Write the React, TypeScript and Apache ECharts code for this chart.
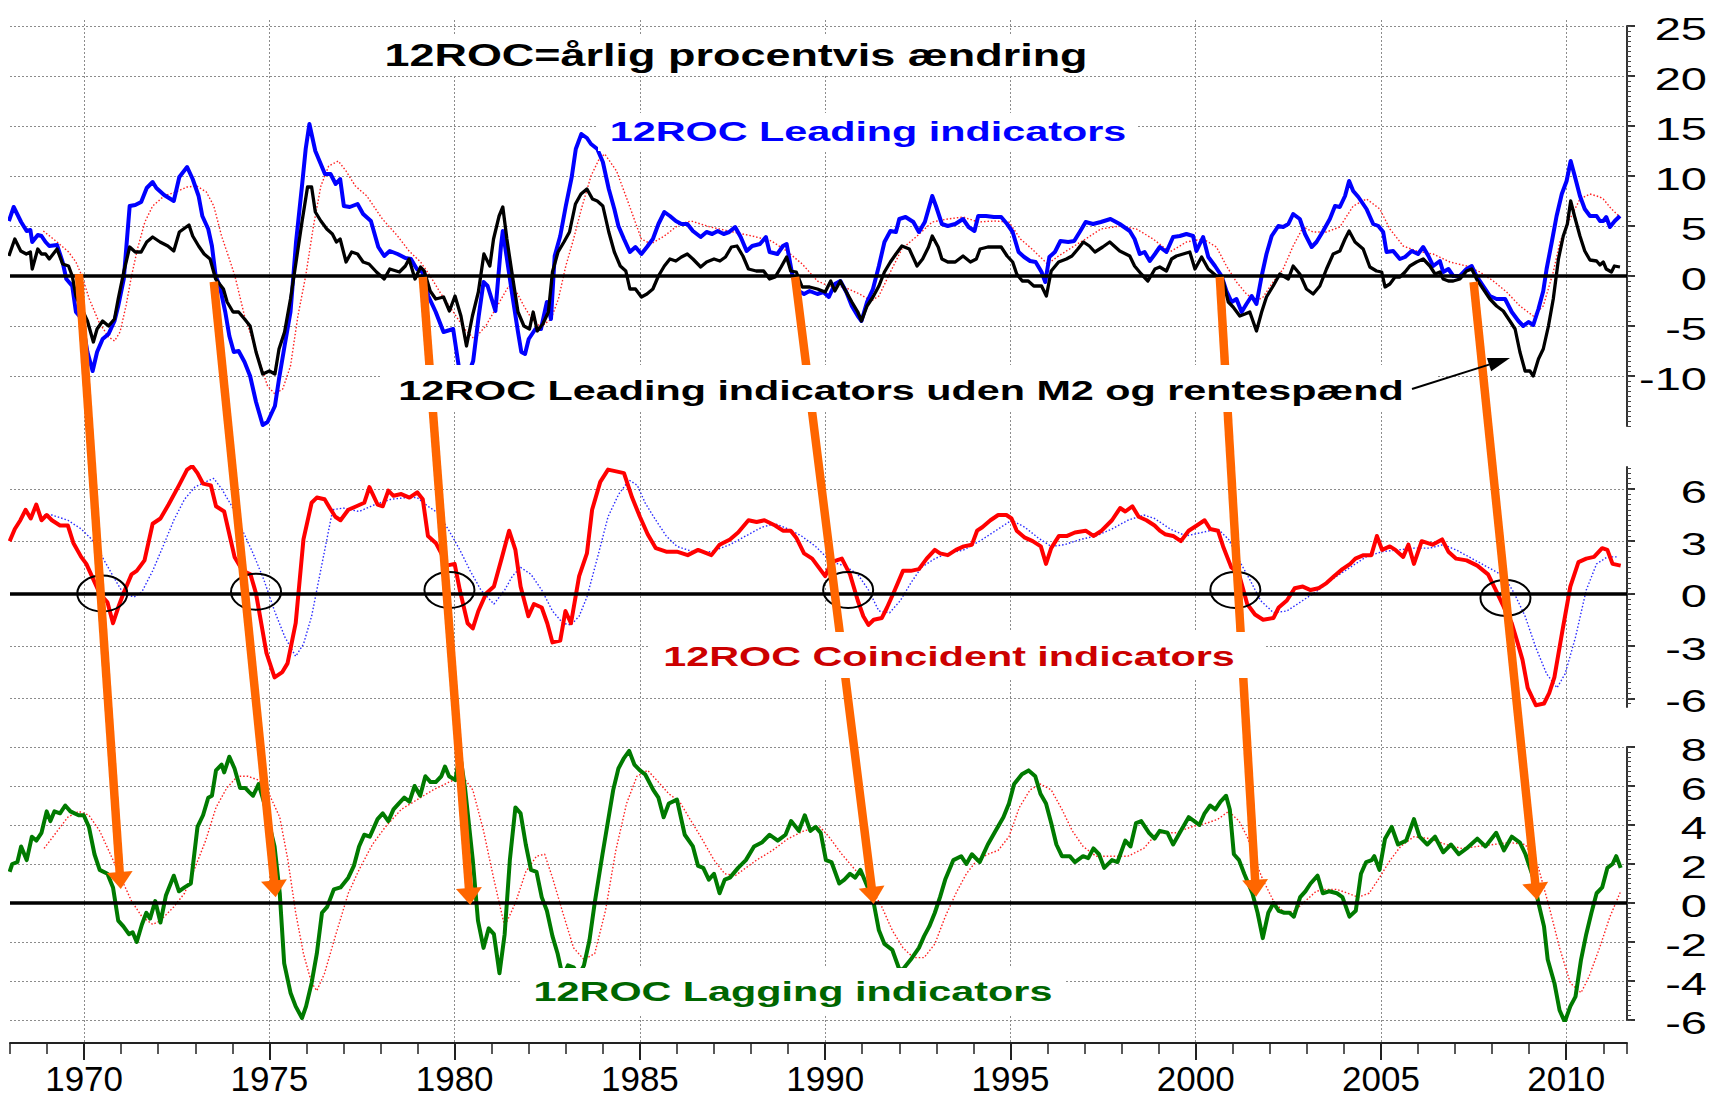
import React, { useEffect, useRef } from 'react';
import * as echarts from 'echarts';

const X_MIN = 1968;
const X_MAX = 2011.64;

const yearLabels = [1970, 1975, 1980, 1985, 1990, 1995, 2000, 2005, 2010];
const topTicks = [-10, -5, 0, 5, 10, 15, 20, 25];
const midTicks = [-6, -3, 0, 3, 6];
const botTicks = [-6, -4, -2, 0, 2, 4, 6, 8];

const leadingTotal: [number, number][] = [[1967.97,5.5],[1968.1,6.9],[1968.3,5.4],[1968.45,4.5],[1968.55,4.6],[1968.6,3.4],[1968.75,4.1],[1968.85,4.0],[1968.96,3.4],[1969.06,3.0],[1969.27,3.1],[1969.42,1.4],[1969.52,-0.3],[1969.68,-1.0],[1969.78,-3.6],[1969.94,-4.3],[1970.09,-7.6],[1970.23,-9.5],[1970.35,-7.6],[1970.5,-6.3],[1970.66,-5.8],[1970.82,-4.5],[1970.92,-3.0],[1971.07,-0.3],[1971.23,7.0],[1971.38,7.1],[1971.54,7.4],[1971.69,8.8],[1971.85,9.4],[1971.95,8.8],[1972.16,8.1],[1972.42,7.5],[1972.57,9.9],[1972.78,10.9],[1972.93,9.7],[1973.09,8.0],[1973.19,6.0],[1973.35,4.7],[1973.45,3.0],[1973.55,0],[1973.66,-1.0],[1973.81,-3.6],[1973.92,-6.0],[1974.04,-7.6],[1974.17,-7.5],[1974.33,-8.6],[1974.48,-10],[1974.64,-12.6],[1974.82,-14.9],[1974.95,-14.6],[1975.15,-13.0],[1975.26,-10.3],[1975.41,-7],[1975.57,-3.6],[1975.72,3.4],[1975.88,9.0],[1975.98,12.7],[1976.08,15.2],[1976.24,12.5],[1976.5,10.2],[1976.65,10.2],[1976.79,9.2],[1976.91,9.7],[1977.01,7.0],[1977.17,6.9],[1977.38,7.2],[1977.53,6.2],[1977.74,5.5],[1977.94,2.9],[1978.1,2.0],[1978.25,2.5],[1978.46,2.2],[1978.67,1.8],[1978.82,1.7],[1978.98,0.7],[1979.13,0.4],[1979.29,-2.0],[1979.49,-3.6],[1979.7,-5.6],[1979.96,-5.3],[1980.11,-9],[1980.3,-10.5],[1980.5,-8.5],[1980.65,-4],[1980.78,-0.6],[1980.89,-1],[1981.1,-3.5],[1981.25,3.0],[1981.3,4.5],[1981.4,2.0],[1981.56,-2.0],[1981.71,-5.6],[1981.8,-7.6],[1981.9,-7.8],[1982.0,-6.3],[1982.18,-5.3],[1982.33,-5.3],[1982.49,-2.6],[1982.6,-4.3],[1982.7,2.0],[1982.85,4.0],[1983.0,7.0],[1983.16,9.9],[1983.27,12.7],[1983.42,14.2],[1983.57,13.8],[1983.68,13.2],[1983.85,12.7],[1984.0,11.4],[1984.16,8.7],[1984.31,6.7],[1984.42,5.0],[1984.57,3.7],[1984.73,2.4],[1984.88,2.9],[1985.04,2.2],[1985.19,2.9],[1985.35,3.7],[1985.5,5.2],[1985.66,6.4],[1985.81,6.0],[1985.97,5.5],[1986.12,5.2],[1986.28,5.2],[1986.43,4.5],[1986.64,3.9],[1986.8,4.4],[1986.95,4.2],[1987.1,4.5],[1987.26,4.2],[1987.41,4.4],[1987.57,4.9],[1987.72,3.9],[1987.88,2.5],[1988.03,3.0],[1988.24,3.2],[1988.4,3.9],[1988.5,2.4],[1988.71,2.2],[1988.86,3.0],[1988.96,3.2],[1989.12,0],[1989.28,-1.5],[1989.43,-1.8],[1989.58,-1.5],[1989.79,-1.8],[1989.95,-1.6],[1990.1,-2.1],[1990.26,-0.8],[1990.41,-0.5],[1990.57,-1.6],[1990.72,-3.0],[1990.88,-4.0],[1990.98,-4.5],[1991.13,-2.6],[1991.29,-1.3],[1991.45,1.0],[1991.6,3.4],[1991.76,4.5],[1991.91,4.4],[1992.0,5.7],[1992.17,5.9],[1992.38,5.4],[1992.53,4.4],[1992.69,5.4],[1992.79,6.7],[1992.89,8.0],[1992.99,7.0],[1993.15,5.2],[1993.31,5.0],[1993.51,5.2],[1993.72,5.7],[1993.87,4.9],[1994.03,4.5],[1994.13,6.0],[1994.34,6.0],[1994.55,5.9],[1994.75,5.9],[1994.91,5.2],[1995.06,4.4],[1995.22,2.4],[1995.37,1.9],[1995.53,1.5],[1995.68,1.4],[1995.84,0.4],[1995.94,-0.6],[1996.05,1.9],[1996.2,2.4],[1996.35,3.5],[1996.56,3.4],[1996.72,3.5],[1996.87,4.4],[1997.03,5.4],[1997.23,5.2],[1997.44,5.4],[1997.7,5.7],[1997.95,5.2],[1998.22,4.5],[1998.35,3.7],[1998.49,2.2],[1998.62,2.4],[1998.76,1.5],[1998.9,2.2],[1999.03,2.9],[1999.21,2.4],[1999.39,3.9],[1999.57,4.0],[1999.75,4.2],[1999.93,4.0],[2000.02,2.5],[2000.2,3.9],[2000.34,1.9],[2000.52,1.0],[2000.7,0],[2000.83,-1.5],[2000.97,-2.6],[2001.1,-2.3],[2001.24,-3.6],[2001.37,-2.8],[2001.51,-2.0],[2001.64,-2.8],[2001.78,0],[2001.91,2.2],[2002.05,4.0],[2002.23,5.0],[2002.36,4.9],[2002.5,5.2],[2002.63,6.2],[2002.81,5.7],[2002.95,4.2],[2003.13,2.9],[2003.26,3.4],[2003.44,4.5],[2003.62,5.7],[2003.76,7.0],[2003.89,6.9],[2004.03,8.0],[2004.14,9.5],[2004.25,8.5],[2004.39,7.9],[2004.61,6.7],[2004.79,5.2],[2004.93,5.0],[2005.06,4.4],[2005.15,2.4],[2005.33,2.5],[2005.51,1.7],[2005.65,1.9],[2005.83,2.5],[2006.0,2.2],[2006.14,2.9],[2006.28,2.0],[2006.41,1.0],[2006.59,1.5],[2006.68,0.4],[2006.82,0.7],[2006.95,0],[2007.13,0],[2007.31,0.7],[2007.45,1.0],[2007.58,0],[2007.76,-1.0],[2007.94,-2.0],[2008.12,-2.3],[2008.35,-2.3],[2008.53,-3.6],[2008.71,-4.5],[2008.84,-5.0],[2008.98,-4.6],[2009.11,-4.9],[2009.25,-3.3],[2009.38,-1.5],[2009.47,0.7],[2009.61,3.4],[2009.74,6.0],[2009.88,8.2],[2010.01,9.5],[2010.12,11.5],[2010.23,10.0],[2010.37,8.0],[2010.5,6.7],[2010.64,6.0],[2010.82,6.0],[2010.91,5.5],[2011.0,5.5],[2011.08,5.9],[2011.18,4.9],[2011.31,5.5],[2011.45,6.0]];

const leadingExM2: [number, number][] = [[1967.97,2.0],[1968.13,3.7],[1968.29,2.5],[1968.44,2.2],[1968.55,2.4],[1968.6,0.7],[1968.75,2.7],[1968.85,2.2],[1968.96,2.2],[1969.06,1.7],[1969.27,2.7],[1969.42,1.2],[1969.58,1.0],[1969.68,0],[1969.78,-2.0],[1969.94,-3.3],[1970.09,-4.5],[1970.25,-6.6],[1970.35,-5.3],[1970.5,-4.5],[1970.66,-5.0],[1970.82,-4.3],[1970.92,-2.3],[1971.07,0.4],[1971.23,2.9],[1971.38,2.4],[1971.54,2.4],[1971.69,3.4],[1971.85,3.9],[1972.05,3.4],[1972.26,3.0],[1972.42,2.5],[1972.57,4.4],[1972.83,5.1],[1972.93,4.0],[1973.09,3.0],[1973.24,2.2],[1973.4,1.7],[1973.55,-0.3],[1973.76,-1.3],[1973.86,-2.6],[1974.02,-3.6],[1974.17,-3.6],[1974.33,-4.3],[1974.48,-5.0],[1974.64,-7.6],[1974.82,-9.8],[1975.0,-9.5],[1975.15,-9.8],[1975.26,-7.3],[1975.41,-5.6],[1975.57,-2.3],[1975.72,1.4],[1975.88,5.4],[1976.03,8.9],[1976.14,8.9],[1976.24,6.4],[1976.39,5.5],[1976.55,4.7],[1976.7,4.2],[1976.81,3.4],[1976.91,3.7],[1977.07,1.4],[1977.22,2.4],[1977.38,2.2],[1977.53,1.4],[1977.69,1.2],[1977.89,0.4],[1978.1,-0.3],[1978.25,0.7],[1978.51,0.4],[1978.67,1.0],[1978.77,1.7],[1978.93,-0.3],[1979.08,0.9],[1979.18,0.5],[1979.34,-1.5],[1979.49,-2.3],[1979.7,-2.1],[1979.86,-3.5],[1980.01,-2.0],[1980.17,-4.0],[1980.32,-7.0],[1980.48,-4.0],[1980.64,-1.6],[1980.79,2.2],[1980.95,1.0],[1981.05,3.7],[1981.2,6.0],[1981.3,6.9],[1981.41,3.7],[1981.56,0],[1981.71,-3.6],[1981.87,-5.0],[1982.02,-5.3],[1982.12,-3.6],[1982.23,-5.5],[1982.38,-4.8],[1982.53,-3.6],[1982.64,0.4],[1982.79,2.4],[1982.95,3.4],[1983.1,4.4],[1983.26,7.2],[1983.41,8.2],[1983.57,8.7],[1983.72,7.7],[1983.85,7.5],[1984.0,7.0],[1984.16,4.4],[1984.31,2.4],[1984.47,1.0],[1984.62,0.5],[1984.73,-1.3],[1984.88,-1.3],[1985.04,-2.1],[1985.19,-1.8],[1985.35,-1.3],[1985.5,0],[1985.66,1.0],[1985.81,1.7],[1985.97,1.5],[1986.12,1.9],[1986.28,2.2],[1986.43,1.7],[1986.64,0.9],[1986.8,1.4],[1987.0,1.7],[1987.16,1.5],[1987.31,1.9],[1987.47,2.9],[1987.62,3.0],[1987.78,2.0],[1987.93,0.7],[1988.14,0.5],[1988.34,0.5],[1988.5,-0.3],[1988.65,-0.1],[1988.81,0.9],[1988.96,1.9],[1989.07,0.5],[1989.22,0.4],[1989.38,-1.1],[1989.58,-1.1],[1989.79,-1.3],[1990.0,-1.6],[1990.15,-0.5],[1990.26,-1.5],[1990.41,-0.5],[1990.57,-1.6],[1990.72,-2.6],[1990.88,-3.6],[1990.98,-4.5],[1991.13,-3.0],[1991.29,-2.1],[1991.45,-1.0],[1991.6,0.4],[1991.76,1.4],[1991.91,2.2],[1992.07,3.0],[1992.27,2.7],[1992.48,1.0],[1992.63,1.7],[1992.79,2.9],[1992.89,4.0],[1993.05,2.9],[1993.15,1.7],[1993.31,1.4],[1993.51,1.4],[1993.72,2.0],[1993.92,1.4],[1994.08,1.7],[1994.18,2.7],[1994.39,2.9],[1994.6,2.9],[1994.75,2.9],[1994.91,2.0],[1995.06,1.4],[1995.17,0.2],[1995.32,-0.5],[1995.48,-0.5],[1995.63,-1.0],[1995.84,-1.0],[1995.97,-2.0],[1996.1,0.5],[1996.3,1.4],[1996.51,1.7],[1996.66,2.0],[1996.82,2.7],[1996.97,3.4],[1997.13,3.0],[1997.28,2.4],[1997.49,2.9],[1997.68,3.4],[1997.95,2.5],[1998.22,2.0],[1998.35,1.0],[1998.53,0.2],[1998.71,-0.5],[1998.9,0.7],[1999.03,0.9],[1999.21,0.5],[1999.35,1.7],[1999.48,2.0],[1999.66,2.2],[1999.84,2.4],[1999.98,0.7],[2000.16,1.9],[2000.34,0.7],[2000.56,0],[2000.74,-0.5],[2000.88,-2.6],[2001.01,-3.1],[2001.19,-4.0],[2001.33,-3.8],[2001.46,-3.6],[2001.64,-5.5],[2001.78,-3.6],[2001.91,-2.1],[2002.09,-1.0],[2002.27,0.2],[2002.5,-0.3],[2002.63,1.0],[2002.81,0.2],[2002.99,-1.3],[2003.17,-1.8],[2003.35,-1.0],[2003.53,0.7],[2003.71,2.2],[2003.89,2.5],[2004.03,3.7],[2004.14,4.5],[2004.3,3.4],[2004.52,2.7],[2004.7,0.9],[2004.88,0.5],[2005.02,0.4],[2005.11,-1.1],[2005.24,-0.8],[2005.38,-0.1],[2005.51,-0.1],[2005.65,0.4],[2005.78,1.0],[2005.96,1.4],[2006.14,1.7],[2006.32,1.0],[2006.46,0.2],[2006.59,0.4],[2006.68,-0.3],[2006.82,-0.5],[2006.95,-0.5],[2007.13,-0.3],[2007.31,0.5],[2007.45,0.7],[2007.58,-0.3],[2007.76,-1.3],[2007.94,-2.3],[2008.12,-3.0],[2008.3,-3.5],[2008.48,-4.5],[2008.62,-5.3],[2008.75,-7.6],[2008.89,-9.5],[2009.02,-9.5],[2009.11,-10.0],[2009.25,-8.3],[2009.38,-7.3],[2009.52,-5.0],[2009.65,-2.3],[2009.79,1.7],[2009.92,4.0],[2010.03,5.2],[2010.12,7.5],[2010.23,5.9],[2010.37,4.0],[2010.5,2.5],[2010.64,1.6],[2010.82,1.5],[2010.91,1.1],[2011.0,1.4],[2011.08,0.7],[2011.22,0.4],[2011.3,1.0],[2011.45,0.9]];

const leadingSmooth: [number, number][] = [[1968.9,4.5],[1969.27,3.4],[1969.58,2.4],[1969.78,1.4],[1969.94,0],[1970.14,-2.3],[1970.4,-4.6],[1970.66,-6.1],[1970.82,-6.5],[1970.97,-5.6],[1971.13,-3.0],[1971.28,0],[1971.44,2.7],[1971.64,5.4],[1971.85,7.0],[1972.16,8.0],[1972.47,8.4],[1972.78,8.9],[1973.04,9.0],[1973.3,8.4],[1973.5,7.0],[1973.71,4.0],[1973.92,1.7],[1974.07,0],[1974.33,-4.0],[1974.54,-6.3],[1974.74,-8.6],[1974.95,-11],[1975.15,-11.8],[1975.36,-11.3],[1975.57,-9.0],[1975.77,-4.0],[1975.98,0],[1976.19,5.0],[1976.39,9.0],[1976.6,11.0],[1976.86,11.5],[1977.07,10.5],[1977.32,9.0],[1977.63,8.0],[1978.05,5.7],[1978.46,4.0],[1978.77,2.5],[1979.08,1.4],[1979.34,0],[1979.6,-1.6],[1979.91,-3.3],[1980.27,-5.3],[1980.53,-6.3],[1980.84,-5.0],[1981.15,-3.0],[1981.46,-1.0],[1981.67,-1.6],[1981.87,-3.0],[1982.08,-4.3],[1982.33,-5.1],[1982.6,-4.3],[1982.8,-2.3],[1983.0,1.0],[1983.21,3.7],[1983.42,6.7],[1983.68,10.0],[1983.9,11.7],[1984.05,12.2],[1984.37,10.5],[1984.68,7.4],[1985.04,3.7],[1985.3,3.2],[1985.66,4.0],[1986.07,5.2],[1986.38,5.5],[1986.9,4.9],[1987.52,4.4],[1988.03,4.0],[1988.55,3.5],[1988.96,2.5],[1989.38,1.2],[1989.79,-0.5],[1990.1,-1.0],[1990.51,-1.1],[1990.93,-1.8],[1991.24,-2.5],[1991.45,-2.0],[1991.76,0.4],[1992.07,2.7],[1992.48,4.0],[1992.89,5.4],[1993.31,5.7],[1993.72,5.9],[1994.13,5.4],[1994.55,5.5],[1994.96,5.4],[1995.27,3.7],[1995.58,2.7],[1996.0,1.2],[1996.3,2.0],[1996.72,3.0],[1997.03,3.7],[1997.44,4.7],[1997.95,5.0],[1998.4,4.7],[1998.85,3.7],[1999.3,2.4],[1999.75,3.4],[2000.2,3.7],[2000.56,2.9],[2000.83,1.0],[2001.1,-0.6],[2001.37,-1.8],[2001.64,-2.5],[2001.82,-2.1],[2002.09,-0.6],[2002.36,0.7],[2002.63,3.0],[2002.9,4.9],[2003.17,4.4],[2003.53,4.4],[2003.89,4.9],[2004.25,7.0],[2004.61,7.7],[2004.97,6.7],[2005.24,4.7],[2005.6,3.0],[2005.96,2.5],[2006.41,2.2],[2006.86,1.4],[2007.31,1.0],[2007.67,0.4],[2008.03,-0.5],[2008.39,-1.6],[2008.75,-3.0],[2009.11,-4.0],[2009.38,-3.0],[2009.65,0.4],[2009.83,3.4],[2010.1,5.7],[2010.37,7.7],[2010.64,8.2],[2010.91,7.9],[2011.0,7.7],[2011.22,6.7],[2011.45,5.9]];

const coincident: [number, number][] = [[1967.99,3.0],[1968.13,3.7],[1968.28,4.2],[1968.42,4.8],[1968.56,4.3],[1968.71,5.1],[1968.85,4.2],[1968.99,4.5],[1969.13,4.2],[1969.35,3.9],[1969.56,3.9],[1969.71,2.9],[1969.92,2.1],[1970.06,1.7],[1970.21,1.0],[1970.42,0],[1970.63,-0.5],[1970.78,-1.7],[1970.92,-0.8],[1971.06,0],[1971.28,1.1],[1971.42,1.3],[1971.63,1.9],[1971.85,4.0],[1972.06,4.3],[1972.28,5.1],[1972.56,6.2],[1972.78,7.1],[1972.92,7.3],[1973.06,6.9],[1973.21,6.3],[1973.42,6.2],[1973.56,5.0],[1973.78,4.7],[1973.92,3.4],[1974.06,2.1],[1974.28,1.3],[1974.49,1.1],[1974.64,0],[1974.78,-1.7],[1974.92,-3.4],[1975.14,-4.8],[1975.35,-4.5],[1975.49,-4.0],[1975.71,-1.7],[1975.92,3.1],[1976.14,5.2],[1976.28,5.5],[1976.49,5.4],[1976.63,4.9],[1976.78,4.4],[1976.92,4.2],[1977.13,4.8],[1977.35,5.0],[1977.56,5.2],[1977.7,6.1],[1977.92,5.1],[1978.06,5.0],[1978.21,5.9],[1978.35,5.6],[1978.56,5.7],[1978.78,5.5],[1978.99,5.8],[1979.14,5.4],[1979.28,3.3],[1979.49,2.9],[1979.64,2.3],[1979.78,1.6],[1980.0,1.7],[1980.14,0.2],[1980.35,-1.7],[1980.49,-2.0],[1980.64,-1.0],[1980.85,0],[1981.06,0.4],[1981.28,2.1],[1981.47,3.6],[1981.64,2.5],[1981.78,0.4],[1981.99,-1.3],[1982.14,-0.6],[1982.35,-0.8],[1982.5,-1.7],[1982.64,-2.8],[1982.85,-2.7],[1982.99,-1.0],[1983.14,-1.7],[1983.36,1.0],[1983.57,2.3],[1983.71,4.8],[1983.93,6.4],[1984.14,7.1],[1984.36,7.0],[1984.57,6.9],[1984.79,5.5],[1985.0,4.4],[1985.21,3.4],[1985.43,2.6],[1985.71,2.4],[1986.0,2.4],[1986.29,2.2],[1986.57,2.5],[1986.93,2.2],[1987.15,2.8],[1987.43,3.1],[1987.65,3.5],[1987.93,4.2],[1988.15,4.1],[1988.36,4.2],[1988.65,3.9],[1988.86,3.6],[1989.07,3.6],[1989.22,3.2],[1989.43,2.3],[1989.65,2.0],[1989.79,1.6],[1990.0,1.0],[1990.17,1.8],[1990.45,2.0],[1990.67,1.1],[1990.88,-0.4],[1991.03,-1.3],[1991.17,-1.8],[1991.31,-1.5],[1991.53,-1.4],[1991.67,-0.8],[1991.88,0.2],[1992.1,1.3],[1992.31,1.3],[1992.53,1.4],[1992.74,2.0],[1992.96,2.5],[1993.1,2.3],[1993.31,2.2],[1993.53,2.5],[1993.74,2.7],[1993.96,2.8],[1994.1,3.6],[1994.24,3.8],[1994.46,4.2],[1994.67,4.5],[1994.89,4.5],[1995.03,4.3],[1995.17,3.6],[1995.39,3.2],[1995.6,3.0],[1995.82,2.7],[1995.96,1.7],[1996.1,2.6],[1996.31,3.3],[1996.53,3.3],[1996.74,3.5],[1997.03,3.6],[1997.24,3.3],[1997.46,3.6],[1997.74,4.2],[1997.96,4.9],[1998.1,4.7],[1998.29,5.0],[1998.46,4.4],[1998.67,4.2],[1998.89,3.9],[1999.03,3.6],[1999.17,3.4],[1999.39,3.3],[1999.6,3.0],[1999.81,3.6],[2000.03,3.9],[2000.24,4.2],[2000.39,3.7],[2000.6,3.6],[2000.74,2.7],[2000.96,1.5],[2001.17,1.1],[2001.39,-0.6],[2001.6,-1.2],[2001.82,-1.5],[2002.1,-1.4],[2002.24,-0.8],[2002.46,-0.4],[2002.67,0.3],[2002.89,0.4],[2003.1,0.2],[2003.31,0.3],[2003.53,0.6],[2003.74,1.0],[2003.96,1.4],[2004.17,1.7],[2004.31,2.0],[2004.53,2.2],[2004.74,2.2],[2004.89,3.3],[2005.03,2.5],[2005.24,2.7],[2005.39,2.5],[2005.6,2.1],[2005.74,2.8],[2005.89,1.7],[2006.1,3.0],[2006.39,2.8],[2006.65,3.1],[2006.82,2.4],[2007.03,2.0],[2007.31,1.9],[2007.6,1.6],[2007.89,1.1],[2008.1,0.2],[2008.32,-0.8],[2008.53,-1.7],[2008.67,-2.7],[2008.82,-3.8],[2008.96,-5.4],[2009.18,-6.4],[2009.4,-6.3],[2009.54,-5.7],[2009.68,-4.8],[2009.9,-2.1],[2010.11,0.4],[2010.33,1.8],[2010.54,2.0],[2010.75,2.1],[2010.97,2.6],[2011.11,2.5],[2011.25,1.7],[2011.47,1.6]];

const coincidentSmooth: [number, number][] = [[1968.92,4.5],[1969.13,4.5],[1969.56,4.2],[1969.92,3.7],[1970.21,3.1],[1970.49,2.1],[1970.78,1.0],[1971.06,0],[1971.35,-0.2],[1971.56,0.1],[1971.85,1.3],[1972.13,2.7],[1972.42,4.2],[1972.71,5.4],[1972.99,6.1],[1973.28,6.4],[1973.5,6.6],[1973.71,6.0],[1973.99,5.0],[1974.28,3.6],[1974.56,2.3],[1974.85,0.8],[1975.14,-1.0],[1975.42,-2.5],[1975.71,-3.6],[1975.92,-2.9],[1976.14,-1.3],[1976.42,1.7],[1976.71,4.8],[1976.99,4.9],[1977.42,4.7],[1977.85,5.1],[1978.28,5.4],[1978.71,5.5],[1978.99,5.5],[1979.28,5.0],[1979.56,4.6],[1979.85,3.6],[1980.14,2.5],[1980.42,1.3],[1980.71,0.2],[1981.06,-0.6],[1981.35,0.2],[1981.56,1.0],[1981.78,1.5],[1982.06,1.1],[1982.35,0.2],[1982.64,-1.0],[1982.92,-1.7],[1983.14,-1.8],[1983.36,-1.3],[1983.57,-0.2],[1983.86,2.1],[1984.14,4.4],[1984.43,5.7],[1984.71,6.5],[1984.93,6.2],[1985.14,5.2],[1985.43,4.2],[1985.71,3.3],[1986.0,2.7],[1986.43,2.4],[1986.93,2.4],[1987.43,2.8],[1987.86,3.3],[1988.29,3.8],[1988.65,4.0],[1989.0,3.7],[1989.36,3.3],[1989.74,2.7],[1990.17,1.8],[1990.52,1.6],[1990.88,1.1],[1991.17,0.2],[1991.45,-1.0],[1991.74,-1.1],[1992.03,-0.4],[1992.31,0.6],[1992.6,1.5],[1992.96,2.0],[1993.31,2.3],[1993.74,2.5],[1994.17,3.0],[1994.6,3.6],[1995.03,4.2],[1995.39,3.8],[1995.74,3.2],[1996.1,2.7],[1996.46,2.8],[1996.89,3.1],[1997.31,3.3],[1997.74,3.7],[1998.17,4.2],[1998.6,4.5],[1998.89,4.3],[1999.31,3.7],[1999.74,3.3],[2000.17,3.5],[2000.6,3.7],[2000.89,3.1],[2001.17,1.9],[2001.46,0.8],[2001.75,-0.4],[2002.1,-1.1],[2002.46,-1.0],[2002.89,-0.4],[2003.31,0.2],[2003.74,0.9],[2004.17,1.5],[2004.6,2.1],[2005.03,2.4],[2005.46,2.5],[2005.89,2.6],[2006.32,2.6],[2006.68,2.8],[2007.03,2.5],[2007.46,2.0],[2007.89,1.5],[2008.32,1.0],[2008.6,0],[2008.89,-1.3],[2009.18,-3.1],[2009.47,-4.6],[2009.75,-5.4],[2009.97,-4.6],[2010.25,-2.5],[2010.54,0.2],[2010.82,1.7],[2011.11,2.1],[2011.4,2.1]];

const lagging: [number, number][] = [[1967.99,1.6],[1968.06,2.0],[1968.2,2.1],[1968.3,2.9],[1968.45,2.2],[1968.59,3.4],[1968.71,3.2],[1968.85,3.6],[1968.99,4.7],[1969.09,4.2],[1969.2,4.7],[1969.35,4.6],[1969.49,5.0],[1969.63,4.7],[1969.85,4.5],[1969.99,4.5],[1970.13,3.9],[1970.28,2.5],[1970.42,1.7],[1970.63,1.5],[1970.78,0.8],[1970.92,-0.9],[1971.06,-1.2],[1971.21,-1.6],[1971.31,-1.5],[1971.42,-2.0],[1971.56,-1.1],[1971.68,-0.5],[1971.78,-0.8],[1971.92,0.1],[1972.06,-1.0],[1972.21,0.4],[1972.42,1.4],[1972.56,0.6],[1972.71,0.8],[1972.88,1.0],[1973.06,3.9],[1973.21,4.5],[1973.35,5.4],[1973.45,5.5],[1973.56,6.8],[1973.71,7.1],[1973.78,6.7],[1973.92,7.5],[1974.06,6.9],[1974.21,5.9],[1974.35,5.9],[1974.45,5.7],[1974.56,5.5],[1974.71,6.1],[1974.85,5.2],[1975.14,2.9],[1975.28,0.5],[1975.4,-3.1],[1975.57,-4.6],[1975.71,-5.3],[1975.88,-5.9],[1975.99,-5.3],[1976.14,-4.1],[1976.28,-2.6],[1976.42,-0.5],[1976.56,-0.2],[1976.74,0.7],[1976.92,0.8],[1977.13,1.3],[1977.28,1.9],[1977.42,2.9],[1977.56,3.5],[1977.71,3.4],[1977.92,4.3],[1978.06,4.6],[1978.21,4.2],[1978.35,4.8],[1978.49,5.1],[1978.64,5.4],[1978.78,5.2],[1978.92,6.0],[1979.07,5.5],[1979.21,6.5],[1979.35,6.2],[1979.49,6.2],[1979.64,6.5],[1979.74,7.0],[1979.85,6.5],[1980.02,6.3],[1980.14,7.7],[1980.28,5.9],[1980.49,2.2],[1980.63,-0.9],[1980.78,-2.3],[1980.92,-1.3],[1981.06,-1.6],[1981.21,-3.6],[1981.35,-1.6],[1981.49,2.2],[1981.64,4.9],[1981.78,4.6],[1981.92,3.0],[1982.06,1.7],[1982.21,1.6],[1982.35,0.3],[1982.49,-0.4],[1982.64,-1.7],[1982.78,-2.6],[1982.92,-3.8],[1983.06,-3.2],[1983.21,-3.3],[1983.35,-3.7],[1983.49,-3.2],[1983.64,-1.9],[1983.78,0],[1983.99,2.5],[1984.28,5.8],[1984.42,6.9],[1984.56,7.4],[1984.71,7.8],[1984.85,7.1],[1985.0,6.8],[1985.14,6.6],[1985.36,5.8],[1985.5,5.4],[1985.64,4.4],[1985.78,5.1],[1986.0,5.3],[1986.21,3.5],[1986.43,2.9],[1986.57,1.9],[1986.71,1.8],[1986.86,1.2],[1987.0,1.5],[1987.15,0.5],[1987.29,1.2],[1987.43,1.3],[1987.65,1.8],[1987.86,2.2],[1988.08,2.9],[1988.29,3.1],[1988.5,3.5],[1988.72,3.2],[1988.93,3.5],[1989.08,4.2],[1989.29,3.7],[1989.45,4.5],[1989.6,3.7],[1989.74,3.9],[1989.88,3.6],[1990.02,2.2],[1990.17,2.1],[1990.38,1.0],[1990.52,1.2],[1990.67,1.5],[1990.81,1.3],[1990.95,1.7],[1991.17,0.7],[1991.31,0],[1991.45,-1.4],[1991.6,-2.1],[1991.81,-2.4],[1992.0,-3.4],[1992.1,-3.4],[1992.31,-2.9],[1992.53,-2.3],[1992.67,-1.7],[1992.81,-1.2],[1992.96,-0.5],[1993.1,0.3],[1993.24,1.2],[1993.46,2.2],[1993.67,2.4],[1993.81,2.0],[1993.96,2.5],[1994.17,2.1],[1994.39,3.0],[1994.6,3.7],[1994.81,4.4],[1994.96,5.1],[1995.1,6.1],[1995.31,6.6],[1995.49,6.8],[1995.67,6.5],[1995.81,5.6],[1995.96,5.1],[1996.1,4.1],[1996.24,3.0],[1996.39,2.4],[1996.6,2.4],[1996.74,2.1],[1996.96,2.4],[1997.1,2.3],[1997.24,2.8],[1997.39,2.5],[1997.53,1.8],[1997.74,2.2],[1997.89,2.1],[1998.1,3.2],[1998.24,2.9],[1998.39,4.1],[1998.53,4.2],[1998.74,3.6],[1998.89,3.3],[1999.03,3.7],[1999.24,3.6],[1999.39,3.0],[1999.6,3.7],[1999.81,4.4],[1999.96,4.2],[2000.1,4.0],[2000.24,4.6],[2000.39,5.0],[2000.53,4.8],[2000.67,5.2],[2000.82,5.5],[2000.92,4.8],[2001.03,2.5],[2001.17,2.2],[2001.31,1.5],[2001.53,0.5],[2001.67,-0.5],[2001.81,-1.8],[2001.96,-0.5],[2002.1,0],[2002.24,-0.4],[2002.39,-0.5],[2002.53,-0.5],[2002.65,-0.7],[2002.82,0.3],[2002.96,0.6],[2003.1,1.0],[2003.29,1.4],[2003.43,0.5],[2003.6,0.6],[2003.81,0.5],[2003.96,0.3],[2004.15,-0.7],[2004.32,-0.4],[2004.46,1.5],[2004.6,2.1],[2004.75,2.2],[2004.82,2.4],[2004.96,1.7],[2005.11,3.3],[2005.29,3.9],[2005.46,3.0],[2005.68,3.2],[2005.89,4.3],[2006.04,3.4],[2006.25,3.0],[2006.46,3.4],[2006.68,2.6],[2006.89,3.0],[2007.1,2.5],[2007.31,2.8],[2007.6,3.3],[2007.82,2.9],[2008.11,3.6],[2008.32,2.7],[2008.53,3.4],[2008.75,3.1],[2008.9,2.5],[2009.11,1.3],[2009.25,0],[2009.4,-1.2],[2009.5,-2.9],[2009.68,-4.1],[2009.82,-5.5],[2009.96,-6.1],[2010.11,-5.3],[2010.25,-4.8],[2010.4,-2.9],[2010.54,-1.6],[2010.68,-0.5],[2010.82,0.5],[2010.97,0.8],[2011.11,1.8],[2011.25,2.0],[2011.35,2.4],[2011.47,1.8]];

const laggingSmooth: [number, number][] = [[1968.92,2.8],[1969.2,3.5],[1969.56,4.4],[1969.85,4.7],[1970.13,4.5],[1970.42,3.7],[1970.71,2.5],[1970.99,1.3],[1971.28,0.1],[1971.56,-0.7],[1971.85,-1.1],[1972.06,-0.9],[1972.42,-0.2],[1972.71,0.5],[1972.99,1.8],[1973.28,3.2],[1973.56,4.9],[1973.85,5.9],[1974.14,6.5],[1974.42,6.5],[1974.71,6.3],[1974.99,5.6],[1975.28,4.4],[1975.5,2.2],[1975.71,-0.5],[1975.92,-2.6],[1976.14,-4.1],[1976.28,-4.5],[1976.49,-3.6],[1976.78,-1.7],[1977.13,0.5],[1977.42,1.7],[1977.78,3.0],[1978.13,3.9],[1978.56,4.8],[1978.99,5.3],[1979.42,5.8],[1979.85,6.2],[1980.21,6.5],[1980.49,5.8],[1980.78,3.7],[1981.06,1.2],[1981.35,-1.2],[1981.64,0],[1981.92,1.6],[1982.21,2.4],[1982.43,2.5],[1982.64,1.3],[1982.92,-0.5],[1983.21,-2.3],[1983.49,-2.9],[1983.78,-2.6],[1984.07,-0.4],[1984.35,2.7],[1984.64,5.1],[1984.92,6.5],[1985.21,6.8],[1985.5,6.2],[1985.78,5.6],[1986.07,5.2],[1986.35,4.3],[1986.64,3.4],[1987.0,2.2],[1987.29,1.5],[1987.57,1.4],[1987.86,1.8],[1988.15,2.2],[1988.58,2.7],[1989.0,3.3],[1989.43,3.7],[1989.86,3.9],[1990.1,3.4],[1990.45,2.5],[1990.81,1.7],[1991.17,1.0],[1991.53,-0.2],[1991.81,-1.4],[1992.1,-2.3],[1992.38,-2.8],[1992.67,-2.8],[1992.96,-2.1],[1993.24,-0.7],[1993.53,0.5],[1993.81,1.5],[1994.1,2.2],[1994.39,2.5],[1994.67,2.7],[1994.96,3.4],[1995.24,4.9],[1995.53,5.8],[1995.81,6.1],[1996.1,5.8],[1996.39,4.8],[1996.67,3.7],[1996.96,2.9],[1997.31,2.4],[1997.74,2.4],[1998.17,2.4],[1998.6,2.8],[1998.96,3.6],[1999.46,3.6],[1999.88,3.9],[2000.31,4.1],[2000.6,4.3],[2000.89,4.7],[2001.17,4.2],[2001.39,3.4],[2001.6,2.2],[2001.81,1.2],[2002.1,0.1],[2002.39,-0.5],[2002.67,-0.4],[2002.96,0.1],[2003.25,0.6],[2003.53,0.7],[2003.81,0.7],[2004.1,0.5],[2004.39,0.3],[2004.68,0.5],[2004.96,1.3],[2005.25,2.2],[2005.53,2.9],[2005.89,3.4],[2006.32,3.3],[2006.75,3.0],[2007.18,2.8],[2007.6,2.9],[2008.04,3.0],[2008.47,3.1],[2008.9,3.0],[2009.25,1.8],[2009.54,-0.2],[2009.82,-2.3],[2010.11,-4.1],[2010.4,-4.6],[2010.61,-3.8],[2010.9,-2.3],[2011.18,-0.7],[2011.47,0.6]];

// Orange arrows: start in the top panel (year, value), end in the bottom panel (year, value)
const arrowStarts: [number, number][] = [[1969.86,0.2],[1973.5,-0.57],[1979.14,-0.1],[1989.19,-0.1],[2000.65,-0.1],[2007.5,-0.6]];
const arrowEnds: [number, number][] = [[1970.99,0.72],[1975.17,0.29],[1980.42,-0.1],[1991.31,-0.05],[2001.63,0.32],[2009.21,0.15]];
// Circles round the zero crossings in the middle panel
const circleCenters: [number, number][] = [[1970.49,0],[1974.64,0.1],[1979.86,0.2],[1990.62,0.2],[2001.07,0.2],[2008.36,-0.25]];

const FONT = 'Liberation Sans, Arial, Helvetica, sans-serif';

function stepTicks(from: number, to: number, step: number): number[] {
  const out: number[] = [];
  const n = Math.round((to - from) / step);
  for (let i = 0; i <= n; i++) out.push(Math.round((from + i * step) * 1000) / 1000);
  return out;
}

export default function App() {
  const ref = useRef<HTMLDivElement>(null);
  useEffect(() => {
    if (!ref.current) return;
    const chart = echarts.init(ref.current, null, { renderer: 'svg' });
    const gridL = 10;
    const gridR = 102;
    const dotted = { color: '#8c8c8c', width: 1, type: [2, 2] as any };
    const axisLineStyle = { show: true, lineStyle: { color: '#333', width: 2 } };

    const hiddenX = (gridIndex: number) => ({
      type: 'value', gridIndex, min: X_MIN, max: X_MAX, show: false,
    });
    const majorY = (gridIndex: number, min: number, max: number, ticks: number[]) => ({
      type: 'value', gridIndex, min, max, position: 'right',
      axisLine: axisLineStyle,
      axisTick: { show: true, length: 8, customValues: ticks, lineStyle: { color: '#333', width: 2 } },
      axisLabel: { show: false, customValues: ticks },
      splitLine: { show: true, lineStyle: dotted },
    });
    const minorY = (gridIndex: number, min: number, max: number, ticks: number[]) => ({
      type: 'value', gridIndex, min, max, position: 'right',
      axisLine: { show: false },
      axisTick: { show: true, length: 4, customValues: ticks, lineStyle: { color: '#444', width: 1 } },
      axisLabel: { show: false },
      splitLine: { show: false },
    });

    const line = (name: string, data: [number, number][], xi: number, yi: number, color: string, width: number, dot: boolean, z: number, extra: any = {}) => ({
      type: 'line', name, data, xAxisIndex: xi, yAxisIndex: yi,
      showSymbol: false, symbol: 'none', silent: true, z,
      lineStyle: { color, width, type: dot ? [1.5, 2] : 'solid', join: 'round' },
      ...extra,
    });
    const zeroLine = {
      markLine: {
        silent: true, symbol: 'none', label: { show: false },
        lineStyle: { color: '#000', width: 3.5, type: 'solid' },
        data: [{ yAxis: 0 }],
      },
    };

    chart.setOption({
      animation: false,
      backgroundColor: '#fff',
      grid: [
        { left: gridL, right: gridR, top: 20, bottom: 1097 - 1043, outerBoundsMode: 'none' },
        { left: gridL, right: gridR, top: 26, height: 400, outerBoundsMode: 'none' },
        { left: gridL, right: gridR, top: 467, height: 240, outerBoundsMode: 'none' },
        { left: gridL, right: gridR, top: 747, height: 273, outerBoundsMode: 'none' },
      ],
      xAxis: [
        {
          type: 'value', gridIndex: 0, min: X_MIN, max: X_MAX, interval: 1, position: 'bottom',
          axisLine: { show: true, lineStyle: { color: '#222', width: 2 } },
          axisTick: { show: true, length: 11, lineStyle: { color: '#222', width: 1.5 } },
          axisLabel: { show: false },
          splitLine: { show: false },
        },
        {
          type: 'value', gridIndex: 0, min: X_MIN, max: X_MAX, position: 'bottom',
          axisLine: { show: false },
          axisTick: { show: true, length: 17, customValues: yearLabels, lineStyle: { color: '#222', width: 2 } },
          axisLabel: { show: true, customValues: yearLabels, fontSize: 35, fontFamily: FONT, color: '#000', margin: 18, formatter: (v: number) => String(v) },
          splitLine: { show: true, lineStyle: dotted },
        },
        hiddenX(1), hiddenX(2), hiddenX(3),
      ],
      yAxis: [
        { type: 'value', gridIndex: 0, min: 0, max: 1, show: false },
        majorY(1, -15, 25, topTicks),
        minorY(1, -15, 25, stepTicks(-15, 25, 0.5)),
        majorY(2, -6.5, 7.25, midTicks),
        minorY(2, -6.5, 7.25, stepTicks(-6.3, 7.2, 0.3)),
        majorY(3, -6, 8, botTicks),
        minorY(3, -6, 8, stepTicks(-6, 8, 0.25)),
      ],
      series: [
        line('12ROC Leading smooth', leadingSmooth, 2, 1, '#ff2020', 1.4, true, 3),
        line('12ROC Leading indicators', leadingTotal, 2, 1, '#0000ff', 4, false, 4),
        line('12ROC Leading indicators uden M2 og rentespænd', leadingExM2, 2, 1, '#000000', 3.3, false, 5, zeroLine),
        line('12ROC Coincident smooth', coincidentSmooth, 3, 3, '#2a2aff', 1.4, true, 3),
        line('12ROC Coincident indicators', coincident, 3, 3, '#ff0000', 4, false, 4, zeroLine),
        line('12ROC Lagging smooth', laggingSmooth, 4, 5, '#ff2020', 1.4, true, 3),
        line('12ROC Lagging indicators', lagging, 4, 5, '#007a00', 4, false, 4, zeroLine),
      ],
    });

    const px = (xAxisIndex: number, v: number) => chart.convertToPixel({ xAxisIndex } as any, v) as unknown as number;
    const py = (yAxisIndex: number, v: number) => chart.convertToPixel({ yAxisIndex } as any, v) as unknown as number;

    const elements: any[] = [];
    // y tick labels (stretched like the original)
    const addYLabels = (yIdx: number, ticks: number[]) => {
      ticks.forEach((t) => {
        elements.push({
          type: 'text', x: 1707, y: py(yIdx, t) + 3, scaleX: 1.47, z: 120,
          style: { text: String(t), fontSize: 32, fontFamily: FONT, fill: '#000', align: 'right', verticalAlign: 'middle', textAlign: 'right', textVerticalAlign: 'middle' },
        });
      });
    };
    addYLabels(1, topTicks);
    addYLabels(3, midTicks);
    addYLabels(5, botTicks);

    // circles
    circleCenters.forEach(([yr, v]) => {
      elements.push({
        type: 'ellipse', z: 40,
        shape: { cx: px(3, yr), cy: py(3, v), rx: 25, ry: 18 },
        style: { fill: 'none', stroke: '#000', lineWidth: 2 },
      });
    });

    // orange arrows
    arrowStarts.forEach(([y0, v0], i) => {
      const [y1, v1] = arrowEnds[i];
      const sx = px(2, y0), sy = py(1, v0);
      const tx = px(4, y1), ty = py(5, v1);
      const dx = tx - sx, dy = ty - sy;
      const len = Math.hypot(dx, dy);
      const ux = dx / len, uy = dy / len;
      const nx = -uy, ny = ux;
      const hl = 17, hw = 13;
      const bx = tx - ux * hl, by = ty - uy * hl;
      elements.push({
        type: 'line', z: 50,
        shape: { x1: sx, y1: sy, x2: bx + ux * 1, y2: by + uy * 1 },
        style: { stroke: '#ff6600', lineWidth: 8.5, lineCap: 'butt' },
      });
      elements.push({
        type: 'polygon', z: 50,
        shape: { points: [[tx, ty], [bx + nx * hw, by + ny * hw], [bx - nx * hw, by - ny * hw]] },
        style: { fill: '#ff6600' },
      });
    });

    // white boxes behind the annotations
    const box = (x: number, y: number, w: number, h: number) => ({
      type: 'rect', z: 100, shape: { x, y, width: w, height: h }, style: { fill: '#fff' },
    });
    elements.push(box(372, 36, 730, 38));
    elements.push(box(598, 113, 540, 38));
    elements.push(box(381, 365, 1056, 47));
    elements.push(box(650, 632, 615, 46));
    elements.push(box(521, 968, 545, 46));

    const ann = (text: string, cx: number, cy: number, size: number, color: string) => ({
      type: 'text', x: cx, y: cy, scaleX: 1.45, z: 110,
      style: { text, fontSize: size, fontWeight: 'bold', fontFamily: FONT, fill: color, align: 'center', verticalAlign: 'middle', textAlign: 'center', textVerticalAlign: 'middle' },
    });
    elements.push(ann('12ROC=årlig procentvis ændring', 736, 55, 31, '#000'));
    elements.push(ann('12ROC Leading indicators', 868, 131, 28.5, '#0000ff'));
    elements.push(ann('12ROC Leading indicators uden M2 og rentespænd', 901, 390, 28.5, '#000'));
    elements.push(ann('12ROC Coincident indicators', 949, 656, 28.5, '#cc0000'));
    elements.push(ann('12ROC Lagging indicators', 793, 991, 28.5, '#006600'));

    // black pointer arrow
    {
      const sx = 1412, sy = 389, tx = 1510, ty = 358;
      const dx = tx - sx, dy = ty - sy;
      const len = Math.hypot(dx, dy);
      const ux = dx / len, uy = dy / len;
      const nx = -uy, ny = ux;
      const hl = 22, hw = 7;
      const bx = tx - ux * hl, by = ty - uy * hl;
      elements.push({ type: 'line', z: 111, shape: { x1: sx, y1: sy, x2: bx, y2: by }, style: { stroke: '#000', lineWidth: 2 } });
      elements.push({ type: 'polygon', z: 111, shape: { points: [[tx, ty], [bx + nx * hw, by + ny * hw], [bx - nx * hw, by - ny * hw]] }, style: { fill: '#000' } });
    }

    chart.setOption({ graphic: { elements } });

    return () => chart.dispose();
  }, []);

  return <div ref={ref} style={{ position: 'fixed', left: 0, top: 0, width: 1729, height: 1097, background: '#fff' }} />;
}
